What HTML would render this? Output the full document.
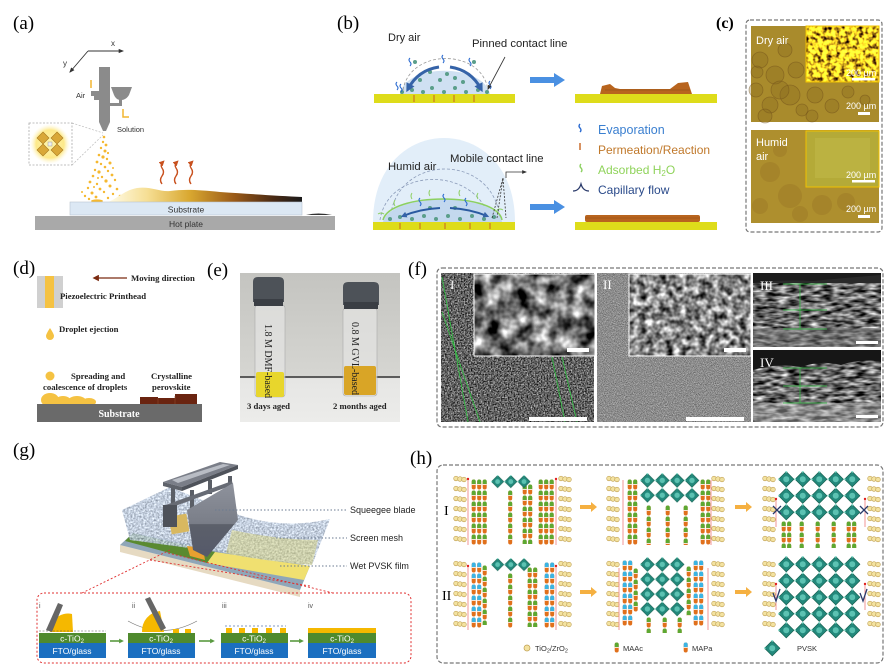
<!DOCTYPE html>
<html><head><meta charset="utf-8"><style>
html,body{margin:0;padding:0;background:#fff;}
svg{display:block;}
.s{font-family:"Liberation Serif",serif;}
.a{font-family:"Liberation Sans",sans-serif;}
</style></head><body>
<svg width="885" height="669" viewBox="0 0 885 669" xmlns="http://www.w3.org/2000/svg">
<defs>
<marker id="ahk" viewBox="0 0 10 10" refX="8" refY="5" markerWidth="6" markerHeight="6" orient="auto"><path d="M0,1 L10,5 L0,9z" fill="#333"/></marker>
<marker id="ahB" viewBox="0 0 10 10" refX="6" refY="5" markerWidth="3" markerHeight="3" orient="auto"><path d="M0,0 L10,5 L0,10z" fill="#3563a8"/></marker>
<marker id="ahR" viewBox="0 0 10 10" refX="6" refY="5" markerWidth="4" markerHeight="4" orient="auto"><path d="M0,0 L10,5 L0,10z" fill="#c8501e"/></marker>
<marker id="ahD" viewBox="0 0 10 10" refX="6" refY="5" markerWidth="5" markerHeight="5" orient="auto"><path d="M0,0 L10,5 L0,10z" fill="#7a2a10"/></marker>
<marker id="ahG" viewBox="0 0 10 10" refX="6" refY="5" markerWidth="3" markerHeight="3" orient="auto"><path d="M0,0 L10,5 L0,10z" fill="#5a9a40"/></marker>
<linearGradient id="film" gradientUnits="userSpaceOnUse" x1="108" y1="0" x2="302" y2="0">
<stop offset="0" stop-color="#fffbe8"/><stop offset="0.2" stop-color="#f6df95"/><stop offset="0.42" stop-color="#d9a830"/><stop offset="0.65" stop-color="#9a5a18"/><stop offset="0.85" stop-color="#4a2a14"/><stop offset="1" stop-color="#1a1a1a"/>
</linearGradient>
<radialGradient id="glow"><stop offset="0" stop-color="#fff6b0"/><stop offset="0.7" stop-color="#fde98a"/><stop offset="1" stop-color="#fff8d8" stop-opacity="0"/></radialGradient>
<linearGradient id="photo" x1="0" y1="0" x2="0" y2="1"><stop offset="0" stop-color="#c4c4c0"/><stop offset="0.7" stop-color="#d6d6d2"/><stop offset="0.71" stop-color="#e6e6e4"/><stop offset="1" stop-color="#ececea"/></linearGradient>
<linearGradient id="blade" x1="0" y1="0" x2="0" y2="1"><stop offset="0" stop-color="#8e929c"/><stop offset="0.55" stop-color="#7a7e88"/><stop offset="0.56" stop-color="#5c606a"/><stop offset="1" stop-color="#55596a"/></linearGradient>
<filter id="nz1" x="0" y="0" width="1" height="1" color-interpolation-filters="sRGB"><feTurbulence type="fractalNoise" baseFrequency="0.7" numOctaves="2" seed="4"/><feColorMatrix type="matrix" values="1.3 0 0 0 -0.27 1.3 0 0 0 -0.27 1.3 0 0 0 -0.27 0 0 0 0 1"/></filter>
<filter id="nz2" x="0" y="0" width="1" height="1" color-interpolation-filters="sRGB"><feTurbulence type="fractalNoise" baseFrequency="1.1" numOctaves="2" seed="7"/><feColorMatrix type="matrix" values="0.7 0 0 0 0.2 0.7 0 0 0 0.2 0.7 0 0 0 0.2 0 0 0 0 1"/></filter>
<filter id="nzI" x="0" y="0" width="1" height="1" color-interpolation-filters="sRGB"><feTurbulence type="fractalNoise" baseFrequency="0.06" numOctaves="3" seed="11"/><feColorMatrix type="matrix" values="2.0 0 0 0 -0.55 2.0 0 0 0 -0.55 2.0 0 0 0 -0.55 0 0 0 0 1"/></filter>
<filter id="nzII" x="0" y="0" width="1" height="1" color-interpolation-filters="sRGB"><feTurbulence type="fractalNoise" baseFrequency="0.15" numOctaves="2" seed="5"/><feColorMatrix type="matrix" values="1.6 0 0 0 -0.27 1.6 0 0 0 -0.27 1.6 0 0 0 -0.27 0 0 0 0 1"/></filter>
<filter id="nzX" x="0" y="0" width="1" height="1" color-interpolation-filters="sRGB"><feTurbulence type="fractalNoise" baseFrequency="0.09 0.3" numOctaves="2" seed="9"/><feColorMatrix type="matrix" values="1.6 0 0 0 -0.38 1.6 0 0 0 -0.38 1.6 0 0 0 -0.38 0 0 0 0 1"/></filter>
<filter id="nzC" x="0" y="0" width="1" height="1" color-interpolation-filters="sRGB"><feTurbulence type="fractalNoise" baseFrequency="0.22" numOctaves="2" seed="3"/><feColorMatrix type="matrix" values="3 0 0 0 -0.5 2.8 0 0 0 -0.58 0.5 0 0 0 -0.1 0 0 0 0 1"/></filter>
<filter id="nzM" x="0" y="0" width="1" height="1" color-interpolation-filters="sRGB"><feTurbulence type="fractalNoise" baseFrequency="0.55" numOctaves="2" seed="2"/><feColorMatrix type="matrix" values="0.8 0 0 0 0.33 0.8 0 0 0 0.38 0.8 0 0 0 0.45 0 0 0 0 1"/><feComposite operator="in" in2="SourceGraphic"/></filter>
<pattern id="tio" patternUnits="userSpaceOnUse" width="14" height="10">
<g fill="#f3e2a0" stroke="#bf9f50" stroke-width="0.6"><circle cx="3" cy="4.5" r="2.3"/><circle cx="7" cy="5" r="2.3"/><circle cx="11" cy="5.5" r="2.3"/></g></pattern>
<pattern id="cg" patternUnits="userSpaceOnUse" width="5.5" height="11">
<rect x="0.7" y="0.5" width="4" height="10" rx="2" fill="#e0701c"/><path d="M0.7,5 v-2.5 a2,2 0 0 1 4,0 v2.5z" fill="#5ca832"/><rect x="0.7" y="5" width="4" height="0.8" fill="#fff"/></pattern>
<pattern id="cb" patternUnits="userSpaceOnUse" width="5.5" height="11">
<rect x="0.7" y="0.5" width="4" height="10" rx="2" fill="#e0701c"/><path d="M0.7,5 v-2.5 a2,2 0 0 1 4,0 v2.5z" fill="#3ab4e4"/><rect x="0.7" y="5" width="4" height="0.8" fill="#fff"/></pattern>
<pattern id="dia" patternUnits="userSpaceOnUse" width="16.5" height="16.5">
<path d="M8.25,0.6 L15.9,8.25 L8.25,15.9 L0.6,8.25z" fill="#23897c" stroke="#15604f" stroke-width="0.7"/><circle cx="8.25" cy="8.25" r="3" fill="#5cc2b2"/><circle cx="8.25" cy="0.6" r="1" fill="#8fe0d0"/><circle cx="0.6" cy="8.25" r="1" fill="#8fe0d0"/></pattern>
</defs>

<!-- ============ (a) ============ -->
<text class="s" x="13" y="29" font-size="19">(a)</text>
<line x1="88" y1="51" x2="123" y2="51" stroke="#333" stroke-width="0.9" marker-end="url(#ahk)"/>
<line x1="88" y1="51" x2="70" y2="72" stroke="#333" stroke-width="0.9" marker-end="url(#ahk)"/>
<text class="a" x="111" y="46" font-size="8" fill="#333">x</text>
<text class="a" x="63" y="66" font-size="8" fill="#333">y</text>
<rect x="99" y="67" width="11" height="55" fill="#8b8b8b"/>
<polygon points="99,122 110,122 106,131 103,131" fill="#8b8b8b"/>
<path d="M91,91 h8 v9 h-5 v-4 h-3z" fill="#8b8b8b"/>
<path d="M110,106 h12 v-8 h-3 v5 h-9z" fill="#8b8b8b"/>
<path d="M111,87 h21 l-3,8 q-3,5 -8,5 q-5,0 -7,-5z" fill="#8b8b8b"/>
<path d="M91,80 v8" stroke="#f2b630" stroke-width="1.5"/>
<path d="M123,109 v8 h6" stroke="#f2b630" stroke-width="1.5" fill="none"/>
<text class="a" x="76" y="98" font-size="7.5" fill="#333">Air</text>
<text class="a" x="117" y="132" font-size="7.5" fill="#333">Solution</text>
<circle cx="50" cy="144" r="20" fill="url(#glow)"/>
<rect x="29" y="123" width="43" height="42" fill="none" stroke="#aaa" stroke-width="0.8" stroke-dasharray="2,1.5"/>
<line x1="72" y1="123" x2="103" y2="133" stroke="#bbb" stroke-width="0.7" stroke-dasharray="2,1.5"/>
<line x1="72" y1="165" x2="103" y2="135" stroke="#bbb" stroke-width="0.7" stroke-dasharray="2,1.5"/>
<g fill="#d9a838" stroke="#a87a20" stroke-width="0.6">
<path d="M43,132 l6,6 l-6,6 l-6,-6z"/><path d="M57,132 l6,6 l-6,6 l-6,-6z"/><path d="M43,144 l6,6 l-6,6 l-6,-6z"/><path d="M57,144 l6,6 l-6,6 l-6,-6z"/></g>
<rect x="48" y="142" width="4" height="4" fill="#eee" stroke="#888" stroke-width="0.4"/>
<g fill="#f5b830">
<circle cx="104" cy="137" r="1.3"/><circle cx="103" cy="142" r="1.2"/><circle cx="106" cy="145" r="1.4"/><circle cx="101" cy="148" r="1.2"/><circle cx="105" cy="151" r="1.5"/><circle cx="108" cy="153" r="1.1"/><circle cx="99" cy="155" r="1.3"/><circle cx="103" cy="157" r="1.6"/><circle cx="107" cy="159" r="1.2"/><circle cx="97" cy="162" r="1.4"/><circle cx="101" cy="164" r="1.2"/><circle cx="110" cy="163" r="1.5"/><circle cx="105" cy="167" r="1.3"/><circle cx="95" cy="170" r="1.2"/><circle cx="99" cy="172" r="1.6"/><circle cx="108" cy="171" r="1.2"/><circle cx="112" cy="175" r="1.4"/><circle cx="93" cy="176" r="1.3"/><circle cx="102" cy="177" r="1.2"/><circle cx="106" cy="181" r="1.6"/><circle cx="115" cy="180" r="1.2"/><circle cx="90" cy="182" r="1.4"/><circle cx="97" cy="184" r="1.2"/><circle cx="110" cy="186" r="1.5"/><circle cx="88" cy="188" r="1.2"/><circle cx="100" cy="189" r="1.4"/><circle cx="104" cy="192" r="1.2"/><circle cx="117" cy="189" r="1.3"/><circle cx="92" cy="193" r="1.5"/><circle cx="113" cy="194" r="1.2"/><circle cx="85" cy="196" r="1.2"/><circle cx="96" cy="197" r="1.4"/><circle cx="108" cy="198" r="1.2"/><circle cx="120" cy="196" r="1.3"/><circle cx="89" cy="199" r="1.2"/><circle cx="124" cy="199" r="1.2"/><circle cx="82" cy="192" r="1"/><circle cx="94" cy="187" r="1"/><circle cx="113" cy="168" r="1"/><circle cx="98" cy="178" r="1"/>
<ellipse cx="97" cy="201" rx="6" ry="1.6"/></g>
<path d="M108,202 C118,198 125,190 137,188 C150,186 160,192 170,191 C185,189 200,190 220,192 C250,194 280,196 302,197 L302,202 Z" fill="url(#film)"/>
<rect x="70" y="202" width="232" height="13" fill="#dce8f4" stroke="#b8c4d0" stroke-width="0.6"/>
<text class="a" x="186" y="212.5" font-size="8.5" fill="#333" text-anchor="middle">Substrate</text>
<rect x="35" y="216" width="300" height="14" fill="#a9a9a9"/>
<text class="a" x="186" y="227" font-size="8.5" fill="#333" text-anchor="middle">Hot plate</text>
<path d="M306,215 q12,-3 26,0z" fill="#333"/>
<g stroke="#c8501e" stroke-width="1.4" fill="none" marker-end="url(#ahR)">
<path d="M162,184 q-3,-4 0,-8 q3,-4 0,-8 q-2,-3 1,-6"/><path d="M176,184 q-3,-4 0,-8 q3,-4 0,-8 q-2,-3 1,-6"/><path d="M191,184 q-3,-4 0,-8 q3,-4 0,-8 q-2,-3 1,-6"/></g>

<!-- ============ (b) ============ -->
<text class="s" x="337" y="29" font-size="19">(b)</text>
<text class="a" x="388" y="41" font-size="11" fill="#222">Dry air</text>
<text class="a" x="472" y="47" font-size="11.3" fill="#222">Pinned contact line</text>
<path d="M400,94 C405,63 483,63 490,94 Z" fill="#cfe0f2"/>
<path d="M403,90 C410,48 482,48 488,90" fill="none" stroke="#999" stroke-width="0.8" stroke-dasharray="3,2"/>
<g fill="#5a9e8a"><circle cx="402" cy="92" r="2"/><circle cx="412" cy="90" r="2"/><circle cx="423" cy="92" r="2"/><circle cx="432" cy="88" r="2"/><circle cx="444" cy="92" r="2"/><circle cx="455" cy="88" r="2"/><circle cx="466" cy="92" r="2"/><circle cx="478" cy="90" r="2"/><circle cx="487" cy="92" r="2"/><circle cx="420" cy="80" r="2"/><circle cx="440" cy="80" r="2"/><circle cx="455" cy="78" r="2"/><circle cx="430" cy="72" r="2"/><circle cx="447" cy="74" r="2"/><circle cx="463" cy="82" r="2"/><circle cx="415" cy="62" r="2"/><circle cx="474" cy="62" r="2"/></g>
<g stroke="#3563a8" stroke-width="3" fill="none" marker-end="url(#ahB)"><path d="M439,67 Q418,70 408,89"/><path d="M450,67 Q471,70 481,89"/></g>
<g stroke="#2a6ad0" stroke-width="1.1" fill="none"><path d="M410,58 q-2,2 0,4 q2,2 0,4"/><path d="M443,55 q-2,2 0,4 q2,2 0,4"/><path d="M470,58 q-2,2 0,4 q2,2 0,4"/><path d="M397,82 q-2,2 0,4 q2,2 0,4"/><path d="M401,84 q-2,2 0,4 q2,2 0,4"/><path d="M490,81 q-2,2 0,4 q2,2 0,4"/></g>
<rect x="374" y="94" width="141" height="9" fill="#dedc1a"/>
<g stroke="#c8641e" stroke-width="1"><line x1="414" y1="95" x2="414" y2="102"/><line x1="434" y1="95" x2="434" y2="102"/><line x1="454" y1="95" x2="454" y2="102"/><line x1="474" y1="95" x2="474" y2="102"/></g>
<line x1="505" y1="57" x2="488" y2="89" stroke="#333" stroke-width="0.8" marker-end="url(#ahk)"/>
<path d="M530,77 h24 v-4 l11,7 l-11,7 v-4 h-24z" fill="#4a90e2"/>
<rect x="575" y="94" width="142" height="9" fill="#dedc1a"/>
<path d="M600,94 L602,86 L610,84 L615,88 L620,89 L670,89 L678,83 L688,82 L692,94z" fill="#b8641e"/>
<g stroke="#8a4a14" stroke-width="0.5" fill="none"><path d="M605,90 h85"/></g>

<path d="M373,222 C373,110 515,110 515,222 Z" fill="#e2eef9"/>
<path d="M390,220 C395,152 495,152 500,220" fill="none" stroke="#8a9ab8" stroke-width="0.8" stroke-dasharray="3,2"/>
<path d="M380,220 C388,168 470,166 488,214" fill="none" stroke="#8a9ab8" stroke-width="0.8" stroke-dasharray="3,2"/>
<path d="M383,222 C390,192 497,192 502,222 Z" fill="#c3d8ee"/>
<path d="M383,220 C390,192 497,192 502,220" fill="none" stroke="#8cd060" stroke-width="1.5"/>
<g stroke="#8cd060" stroke-width="1" fill="none"><path d="M395,206 q-2,-3 0,-6"/><path d="M412,199 q-2,-3 0,-6"/><path d="M430,196 q-2,-3 0,-6"/><path d="M460,196 q-2,-3 0,-6"/><path d="M478,199 q-2,-3 0,-6"/><path d="M384,214 q-3,-2 -6,0"/><path d="M497,210 q3,-2 6,0"/></g>
<g stroke="#2a6ad0" stroke-width="1.1" fill="none"><path d="M420,198 q-2,2 0,4 q2,2 0,4"/><path d="M444,194 q-2,2 0,4 q2,2 0,4"/><path d="M466,198 q-2,2 0,4 q2,2 0,4"/></g>
<g fill="#5a9e8a"><circle cx="390" cy="219" r="2"/><circle cx="400" cy="217" r="2"/><circle cx="412" cy="219" r="2"/><circle cx="424" cy="216" r="2"/><circle cx="436" cy="219" r="2"/><circle cx="448" cy="216" r="2"/><circle cx="460" cy="219" r="2"/><circle cx="472" cy="216" r="2"/><circle cx="484" cy="219" r="2"/><circle cx="494" cy="217" r="2"/><circle cx="430" cy="208" r="2"/><circle cx="455" cy="208" r="2"/></g>
<g stroke="#2a5aa0" stroke-width="2" fill="none" marker-end="url(#ahB)"><path d="M440,208 Q420,209 403,216"/><path d="M450,208 Q470,209 487,216"/></g>
<rect x="373" y="222" width="142" height="8" fill="#dedc1a"/>
<g stroke="#c8641e" stroke-width="1"><line x1="400" y1="223" x2="400" y2="229"/><line x1="420" y1="223" x2="420" y2="229"/><line x1="445" y1="223" x2="445" y2="229"/><line x1="470" y1="223" x2="470" y2="229"/><line x1="490" y1="223" x2="490" y2="229"/></g>
<g stroke="#333" stroke-width="0.8" fill="none" stroke-dasharray="2,1.5"><path d="M492,218 L503,178 L506,218"/><path d="M497,218 L503,178"/></g>
<path d="M506,178 V172 H526" stroke="#333" stroke-width="0.8" fill="none" marker-end="url(#ahk)"/>
<text class="a" x="388" y="170" font-size="11.3" fill="#222">Humid air</text>
<text class="a" x="450" y="162" font-size="11.3" fill="#222">Mobile contact line</text>
<path d="M530,204 h24 v-4 l11,7 l-11,7 v-4 h-24z" fill="#4a90e2"/>
<rect x="575" y="222" width="142" height="8" fill="#dedc1a"/>
<rect x="585" y="215" width="115" height="7" rx="2" fill="#b8641e"/>
<g stroke="#8a4a14" stroke-width="0.4"><path d="M585,218 h115"/></g>

<path d="M580,124 q-2,2 0,4 q2,2 0,4" stroke="#2a6ad0" stroke-width="1.4" fill="none"/>
<text class="a" x="598" y="134" font-size="12.5" fill="#3a7fd0">Evaporation</text>
<path d="M580,143 v7" stroke="#c8641e" stroke-width="1.4"/>
<text class="a" x="598" y="154" font-size="12" fill="#c0782a">Permeation/Reaction</text>
<path d="M581,164 q-2,2 0,4 q2,2 0,4" stroke="#8cd060" stroke-width="1.4" fill="none"/>
<text class="a" x="598" y="174" font-size="12" fill="#8fd35a">Adsorbed H<tspan font-size="8" dy="2">2</tspan><tspan dy="-2">O</tspan></text>
<path d="M573,191 q6,0 8,-7 q2,7 8,7" stroke="#2a3a6a" stroke-width="1.3" fill="none"/>
<text class="a" x="598" y="194" font-size="12" fill="#2a4a8a">Capillary flow</text>

<!-- ============ (c) ============ -->
<text class="s" x="716" y="28" font-size="16" font-weight="bold">(c)</text>
<rect x="746" y="20" width="136" height="212" rx="4" fill="none" stroke="#777" stroke-width="1.2" stroke-dasharray="4,2"/>
<rect x="751" y="26" width="128" height="96" fill="#a98b2c"/>
<g fill="#86661f" fill-opacity="0.3" stroke="#6a4a18" stroke-opacity="0.45" stroke-width="0.8">
<circle cx="760" cy="60" r="8"/><circle cx="775" cy="75" r="9"/><circle cx="790" cy="95" r="10"/><circle cx="770" cy="105" r="8"/><circle cx="756" cy="90" r="7"/><circle cx="802" cy="110" r="6"/><circle cx="815" cy="95" r="8"/><circle cx="832" cy="106" r="7"/><circle cx="848" cy="92" r="6"/><circle cx="785" cy="50" r="7"/><circle cx="796" cy="70" r="8"/><circle cx="765" cy="116" r="7"/><circle cx="812" cy="116" r="6"/><circle cx="780" cy="90" r="9"/><circle cx="757" cy="72" r="6"/><circle cx="865" cy="100" r="5"/></g>
<rect x="806" y="26" width="73" height="56" filter="url(#nzC)"/>
<rect x="806" y="26" width="73" height="56" fill="none" stroke="#f0c000" stroke-width="1"/>
<text class="a" x="756" y="44" font-size="11" fill="#fff">Dry air</text>
<text class="a" x="846" y="76" font-size="9" fill="#fff">200 µm</text>
<rect x="852" y="78" width="23" height="2.5" fill="#fff"/>
<text class="a" x="846" y="109" font-size="9" fill="#fff">200 µm</text>
<rect x="858" y="112" width="12" height="3" fill="#fff"/>
<rect x="751" y="130" width="128" height="93" fill="#ae8f2e"/>
<g fill="#8a6420" fill-opacity="0.25"><circle cx="770" cy="172" r="10"/><circle cx="790" cy="196" r="12"/><circle cx="822" cy="205" r="10"/><circle cx="760" cy="206" r="8"/><circle cx="846" cy="202" r="9"/><circle cx="800" cy="214" r="8"/><circle cx="780" cy="150" r="7"/></g>
<rect x="806" y="131" width="73" height="56" fill="#b4aa38"/>
<rect x="815" y="138" width="55" height="40" fill="#c0b848" opacity="0.6"/>
<rect x="806" y="131" width="73" height="56" fill="none" stroke="#f0c000" stroke-width="1"/>
<text class="a" x="756" y="146" font-size="11" fill="#fff">Humid</text>
<text class="a" x="756" y="160" font-size="11" fill="#fff">air</text>
<text class="a" x="846" y="178" font-size="9" fill="#fff">200 µm</text>
<rect x="852" y="180" width="23" height="2.5" fill="#fff"/>
<text class="a" x="846" y="212" font-size="9" fill="#fff">200 µm</text>
<rect x="858" y="215" width="12" height="3" fill="#fff"/>

<!-- ============ (d) ============ -->
<text class="s" x="13" y="274" font-size="19">(d)</text>
<rect x="37" y="276" width="26" height="32" fill="#d0d0d0"/>
<rect x="45" y="276" width="9" height="32" fill="#f5c242"/>
<line x1="127" y1="278" x2="95" y2="278" stroke="#7a2a10" stroke-width="1.3" marker-end="url(#ahD)"/>
<text class="s" x="131" y="281" font-size="8.7" font-weight="bold" fill="#222">Moving direction</text>
<text class="s" x="60" y="299" font-size="8.7" font-weight="bold" fill="#222">Piezoelectric Printhead</text>
<path d="M50,328 q-4,6 -4,8 a4,4 0 0 0 8,0 q0,-2 -4,-8z" fill="#f5c242"/>
<text class="s" x="59" y="332" font-size="8.7" font-weight="bold" fill="#222">Droplet ejection</text>
<circle cx="50" cy="376" r="4.5" fill="#f5c242"/>
<text class="s" x="71" y="379" font-size="8.7" font-weight="bold" fill="#222">Spreading and</text>
<text class="s" x="43" y="390" font-size="8.7" font-weight="bold" fill="#222">coalescence  of droplets</text>
<text class="s" x="151" y="379" font-size="8.7" font-weight="bold" fill="#222">Crystalline</text>
<text class="s" x="152" y="390" font-size="8.7" font-weight="bold" fill="#222">perovskite</text>
<g fill="#f5c242"><ellipse cx="50" cy="400" rx="9" ry="7"/><ellipse cx="63" cy="401" rx="8" ry="5"/><ellipse cx="77" cy="401" rx="9" ry="5"/><ellipse cx="89" cy="402" rx="7" ry="4"/></g>
<path d="M140,404 V397 H158 V398 H175 V394 H197 V404z" fill="#6a2410"/>
<g stroke="#8a4a2a" stroke-width="0.6"><line x1="158" y1="398" x2="158" y2="404"/><line x1="175" y1="396" x2="175" y2="404"/></g>
<rect x="37" y="404" width="165" height="18" fill="#6a6a6a"/>
<text class="s" x="119" y="417" font-size="10" font-weight="bold" fill="#fff" text-anchor="middle">Substrate</text>

<!-- ============ (e) ============ -->
<text class="s" x="207" y="276" font-size="19">(e)</text>
<rect x="240" y="273" width="160" height="149" fill="url(#photo)"/>
<line x1="240" y1="377" x2="400" y2="377" stroke="#333" stroke-width="1.5"/>
<rect x="255" y="305" width="30" height="92" rx="3" fill="#e4e4e2" fill-opacity="0.7" stroke="#aaa" stroke-width="0.6"/>
<rect x="256" y="372" width="28" height="25" rx="2" fill="#e8d62c"/>
<path d="M253,282 q0,-5 5,-5 h21 q5,0 5,5 v20 h-31z" fill="#4d5258"/>
<rect x="254" y="299" width="29" height="7" fill="#3a3e44"/>
<rect x="343" y="308" width="34" height="88" rx="3" fill="#e4e4e2" fill-opacity="0.7" stroke="#aaa" stroke-width="0.6"/>
<rect x="344" y="366" width="32" height="29" rx="2" fill="#d9a526"/>
<path d="M343,287 q0,-5 5,-5 h26 q5,0 5,5 v18 h-36z" fill="#4d5258"/>
<rect x="344" y="302" width="34" height="7" fill="#3a3e44"/>
<text class="s" transform="translate(265,324) rotate(90)" font-size="10" fill="#222">1.8 M DMF-based</text>
<text class="s" transform="translate(352,322) rotate(90)" font-size="10" fill="#222">0.8 M GVL-based</text>
<text class="s" x="247" y="409" font-size="8.7" font-weight="bold" fill="#222">3 days aged</text>
<text class="s" x="333" y="409" font-size="8.7" font-weight="bold" fill="#222">2 months aged</text>

<!-- ============ (f) ============ -->
<text class="s" x="408" y="275" font-size="19">(f)</text>
<rect x="437" y="268" width="446" height="159" rx="5" fill="none" stroke="#777" stroke-width="1.2" stroke-dasharray="4,2"/>
<rect x="441" y="273" width="153" height="149" filter="url(#nz1)"/>
<g stroke="#2ec040" stroke-width="0.8"><line x1="442" y1="277" x2="468" y2="422"/><line x1="442" y1="312" x2="480" y2="422"/><line x1="552" y1="357" x2="565" y2="422"/><line x1="562" y1="357" x2="577" y2="422"/></g>
<rect x="474" y="274" width="121" height="82" filter="url(#nzI)"/>
<rect x="474" y="274" width="121" height="82" fill="none" stroke="#fff" stroke-width="1"/>
<rect x="567" y="348" width="22" height="4" fill="#fff"/>
<rect x="529" y="417" width="58" height="4" fill="#fff"/>
<text class="s" x="450" y="289" font-size="13" fill="#fff">I</text>
<rect x="597" y="273" width="154" height="149" filter="url(#nz2)"/>
<rect x="629" y="274" width="122" height="82" filter="url(#nzII)"/>
<rect x="629" y="274" width="122" height="82" fill="none" stroke="#fff" stroke-width="1"/>
<rect x="724" y="348" width="22" height="4" fill="#fff"/>
<rect x="686" y="417" width="58" height="4" fill="#fff"/>
<text class="s" x="603" y="289" font-size="13" fill="#fff">II</text>
<rect x="753" y="273" width="128" height="74" filter="url(#nzX)"/>
<rect x="753" y="273" width="128" height="10" fill="#1c1c1c"/>
<path d="M753,283 q30,-4 60,-2 q30,-3 68,-6 v8 h-128z" fill="#2a2a2a"/>
<rect x="753" y="328" width="128" height="19" fill="#777" opacity="0.5"/>
<g stroke="#2ec040" stroke-width="0.7"><line x1="783" y1="284" x2="827" y2="284"/><line x1="783" y1="310" x2="827" y2="310"/><line x1="783" y1="329" x2="827" y2="329"/><line x1="800" y1="284" x2="800" y2="329"/></g>
<rect x="856" y="341" width="22" height="3" fill="#fff"/>
<text class="s" x="760" y="290" font-size="13" fill="#fff">III</text>
<rect x="753" y="350" width="128" height="72" filter="url(#nzX)"/>
<path d="M753,350 h128 v12 q-20,-4 -40,3 q-20,-5 -40,2 q-25,-4 -48,3z" fill="#161616"/>
<rect x="753" y="403" width="128" height="19" fill="#bbb" opacity="0.45"/>
<g stroke="#2ec040" stroke-width="0.7"><line x1="783" y1="368" x2="827" y2="368"/><line x1="783" y1="386" x2="827" y2="386"/><line x1="783" y1="403" x2="827" y2="403"/><line x1="800" y1="368" x2="800" y2="403"/></g>
<rect x="856" y="415" width="22" height="3" fill="#fff"/>
<text class="s" x="760" y="367" font-size="13" fill="#fff">IV</text>

<!-- ============ (g) ============ -->
<text class="s" x="13" y="456" font-size="19">(g)</text>
<polygon points="120,545 300,590 300,597 120,552" fill="#e6dac2"/>
<polygon points="120,545 133,533 310,566 300,590" fill="#8fa6b8"/>
<polygon points="133,533 215,552 207,563 125,541" fill="#5a8a30"/>
<polygon points="215,552 310,566 304,580 207,563" fill="#f0e070"/>
<path d="M122,510 L170,487 L236,514 Q282,530 330,519 L312,565 Q262,561 226,553 L130,540 Z" fill="#b6c1ce" filter="url(#nzM)" opacity="0.85"/>
<path d="M232,530 Q280,540 318,540 L312,565 Q262,561 226,553z" fill="#d8d070" opacity="0.45"/>
<rect x="170" y="515" width="18" height="18" fill="#d8b860" transform="rotate(-10 179 524)"/>
<polygon points="187,546 203,548 205,560 190,556" fill="#e8a030"/>
<g fill="#5a5e66"><rect x="171" y="486" width="4" height="30"/><rect x="190" y="490" width="4" height="25"/><rect x="208" y="480" width="4" height="14"/><rect x="228" y="476" width="4" height="10"/></g>
<polygon points="163,506 232,481 233,485 164,510" fill="#676b74"/>
<rect x="163" y="505" width="14" height="22" fill="#4e525a"/>
<polygon points="187,510 233,483 238,520 207,557 193,550" fill="url(#blade)"/>
<polygon points="163,482 220,462 238,465 182,487" fill="#7a7e88"/>
<polygon points="172,480 223,464 230,465 178,483" fill="#b8bcc4"/>
<polygon points="182,487 238,465 238,469 182,491" fill="#4e525a"/>
<polygon points="163,482 182,487 182,491 163,486" fill="#5e626a"/>
<g stroke="#e03030" stroke-width="0.9" stroke-dasharray="2,2" fill="none"><line x1="82" y1="593" x2="170" y2="550"/><line x1="168" y1="553" x2="333" y2="593"/><line x1="150" y1="560" x2="310" y2="586"/></g>
<g stroke="#6a7a90" stroke-width="0.9" stroke-dasharray="1.5,2"><line x1="215" y1="510" x2="347" y2="510"/><line x1="276" y1="538" x2="347" y2="538"/><line x1="280" y1="566" x2="347" y2="566"/></g>
<text class="a" x="350" y="513" font-size="9" fill="#222">Squeegee blade</text>
<text class="a" x="350" y="541" font-size="9" fill="#222">Screen mesh</text>
<text class="a" x="350" y="569" font-size="9" fill="#222">Wet PVSK film</text>
<rect x="37" y="593" width="374" height="70" rx="7" fill="none" stroke="#e03030" stroke-width="1" stroke-dasharray="2,2"/>
<g class="a" font-size="7" fill="#555"><text x="39" y="608">i</text><text x="132" y="608">ii</text><text x="222" y="608">iii</text><text x="308" y="608">iv</text></g>
<g>
<rect x="39" y="633" width="67" height="10" fill="#4f8a2e"/><rect x="39" y="643" width="67" height="15" fill="#1b6fc0"/>
<rect x="128" y="633" width="67" height="10" fill="#4f8a2e"/><rect x="128" y="643" width="67" height="15" fill="#1b6fc0"/>
<rect x="221" y="633" width="67" height="10" fill="#4f8a2e"/><rect x="221" y="643" width="67" height="15" fill="#1b6fc0"/>
<rect x="308" y="633" width="68" height="10" fill="#4f8a2e"/><rect x="308" y="643" width="68" height="15" fill="#1b6fc0"/>
</g>
<g class="a" font-size="8.5" fill="#fff" text-anchor="middle">
<text x="72" y="641.5">c-TiO<tspan font-size="6" dy="1.5">2</tspan></text><text x="72" y="654">FTO/glass</text>
<text x="161" y="641.5">c-TiO<tspan font-size="6" dy="1.5">2</tspan></text><text x="161" y="654">FTO/glass</text>
<text x="254" y="641.5">c-TiO<tspan font-size="6" dy="1.5">2</tspan></text><text x="254" y="654">FTO/glass</text>
<text x="342" y="641.5">c-TiO<tspan font-size="6" dy="1.5">2</tspan></text><text x="342" y="654">FTO/glass</text>
</g>
<g stroke="#5a9a40" stroke-width="1.6" marker-end="url(#ahG)"><line x1="110" y1="641" x2="122" y2="641"/><line x1="199" y1="641" x2="213" y2="641"/><line x1="290" y1="641" x2="302" y2="641"/></g>
<path d="M50,632 A18,18 0 0 1 72,614 L73,632z" fill="#f5b800"/>
<polygon points="46,630 58,603 63,605 52,632" fill="#666"/>
<line x1="39" y1="631" x2="106" y2="631" stroke="#555" stroke-width="0.6" stroke-dasharray="2,1.5"/>
<path d="M128,621 Q162,640 197,621" fill="none" stroke="#777" stroke-width="0.7"/>
<path d="M142,632 A20,20 0 0 1 160,611 L164,632z" fill="#f5b800"/>
<polygon points="145,599 150,597 166,628 161,631" fill="#666"/>
<g fill="#f5b800"><rect x="173" y="629" width="6" height="4"/><rect x="185" y="629" width="6" height="4"/></g>
<g fill="#f5b800"><rect x="226" y="628" width="6" height="5"/><rect x="239" y="628" width="6" height="5"/><rect x="252" y="628" width="6" height="5"/><rect x="266" y="628" width="6" height="5"/><rect x="280" y="628" width="6" height="5"/></g>
<line x1="225" y1="626" x2="286" y2="626" stroke="#5a7ab0" stroke-width="0.8" stroke-dasharray="2,2"/>
<rect x="308" y="628" width="68" height="5" fill="#f5b800"/>

<!-- ============ (h) ============ -->
<text class="s" x="410" y="464" font-size="19">(h)</text>
<rect x="437" y="465" width="446" height="198" rx="6" fill="none" stroke="#777" stroke-width="1.2" stroke-dasharray="4,2"/>
<text class="s" x="444" y="515" font-size="14">I</text>
<text class="s" x="442" y="600" font-size="14">II</text>
<g fill="#f5b041"><path d="M580,505 h11 v-3 l6,5 l-6,5 v-3 h-11z"/><path d="M735,505 h11 v-3 l6,5 l-6,5 v-3 h-11z"/><path d="M580,590 h11 v-3 l6,5 l-6,5 v-3 h-11z"/><path d="M735,590 h11 v-3 l6,5 l-6,5 v-3 h-11z"/></g>
<!-- Row I left -->
<g transform="translate(453,474)"><rect width="14" height="70" fill="url(#tio)"/></g>
<g transform="translate(558,474)"><rect width="14" height="70" fill="url(#tio)"/></g>
<g stroke="#f08a8a" stroke-width="0.9"><line x1="468" y1="480" x2="468" y2="545"/><line x1="556" y1="480" x2="556" y2="545"/></g>
<g fill="#e02020"><circle cx="468" cy="479" r="1.2"/><circle cx="556" cy="479" r="1.2"/></g>
<g transform="translate(471,479)"><rect width="17" height="66" fill="url(#cg)"/></g>
<g transform="translate(507.5,490)"><rect width="5.5" height="55" fill="url(#cg)"/></g>
<g transform="translate(522,484)"><rect width="11" height="60" fill="url(#cg)"/></g>
<g transform="translate(538,479)"><rect width="17" height="66" fill="url(#cg)"/></g>
<g transform="translate(491,475) scale(0.8)"><rect width="49.5" height="16.5" fill="url(#dia)"/></g>
<!-- Row I middle -->
<g transform="translate(606,474)"><rect width="14" height="70" fill="url(#tio)"/></g>
<g transform="translate(711,474)"><rect width="14" height="70" fill="url(#tio)"/></g>
<g transform="translate(640,473) scale(0.9)"><rect width="66" height="33" fill="url(#dia)"/></g>
<g transform="translate(627,479)"><rect width="11" height="66" fill="url(#cg)"/></g>
<g transform="translate(700,479)"><rect width="11" height="66" fill="url(#cg)"/></g>
<g transform="translate(646,505)"><rect width="5.5" height="40" fill="url(#cg)"/></g>
<g transform="translate(665,505)"><rect width="5.5" height="40" fill="url(#cg)"/></g>
<g transform="translate(683,505)"><rect width="5.5" height="40" fill="url(#cg)"/></g>
<g stroke="#f08a8a" stroke-width="0.9" fill="none"><path d="M623,480 V545"/><path d="M711,480 V545"/></g>
<!-- Row I right -->
<g transform="translate(762,474)"><rect width="14" height="70" fill="url(#tio)"/></g>
<g transform="translate(867,474)"><rect width="14" height="70" fill="url(#tio)"/></g>
<g transform="translate(778,471)"><rect width="82.5" height="49.5" fill="url(#dia)"/></g>
<g transform="translate(781,521)"><rect width="11" height="27" fill="url(#cg)"/></g>
<g transform="translate(799,521)"><rect width="5.5" height="27" fill="url(#cg)"/></g>
<g transform="translate(815,521)"><rect width="5.5" height="27" fill="url(#cg)"/></g>
<g transform="translate(831,521)"><rect width="5.5" height="27" fill="url(#cg)"/></g>
<g transform="translate(846,521)"><rect width="11" height="27" fill="url(#cg)"/></g>
<g stroke="#f08a8a" stroke-width="0.9"><line x1="776" y1="500" x2="776" y2="527"/><line x1="865" y1="500" x2="865" y2="527"/></g>
<g fill="#e02020"><circle cx="776" cy="499" r="1.2"/><circle cx="865" cy="499" r="1.2"/></g>
<g stroke="#2a3a6a" stroke-width="1.3"><path d="M773,506 l8,8 M781,506 l-8,8"/><path d="M860,506 l8,8 M868,506 l-8,8"/></g>
<!-- Row II left -->
<g transform="translate(453,559)"><rect width="14" height="70" fill="url(#tio)"/></g>
<g transform="translate(558,559)"><rect width="14" height="70" fill="url(#tio)"/></g>
<g stroke="#f08a8a" stroke-width="0.9"><line x1="468" y1="567" x2="468" y2="630"/><line x1="556" y1="567" x2="556" y2="630"/></g>
<g fill="#e02020"><circle cx="468" cy="566" r="1.2"/><circle cx="556" cy="566" r="1.2"/></g>
<g transform="translate(471,562)"><rect width="11" height="66" fill="url(#cb)"/></g>
<g transform="translate(482,565)"><rect width="5.5" height="60" fill="url(#cg)"/></g>
<g transform="translate(507.5,573)"><rect width="5.5" height="55" fill="url(#cg)"/></g>
<g transform="translate(527,567)"><rect width="11" height="60" fill="url(#cg)"/></g>
<g transform="translate(544,562)"><rect width="11" height="66" fill="url(#cb)"/></g>
<g transform="translate(491,558) scale(0.8)"><rect width="49.5" height="16.5" fill="url(#dia)"/></g>
<!-- Row II middle -->
<g transform="translate(606,559)"><rect width="14" height="70" fill="url(#tio)"/></g>
<g transform="translate(711,559)"><rect width="14" height="70" fill="url(#tio)"/></g>
<g transform="translate(640,557) scale(0.9)"><rect width="49.5" height="66" fill="url(#dia)"/></g>
<g transform="translate(622,560)"><rect width="11" height="66" fill="url(#cb)"/></g>
<g transform="translate(633,568)"><rect width="5.5" height="44" fill="url(#cg)"/></g>
<g transform="translate(686,566)"><rect width="5.5" height="50" fill="url(#cg)"/></g>
<g transform="translate(693,560)"><rect width="11" height="66" fill="url(#cb)"/></g>
<g transform="translate(646,617)"><rect width="5.5" height="16" fill="url(#cg)"/></g>
<g transform="translate(662,617)"><rect width="5.5" height="16" fill="url(#cg)"/></g>
<g transform="translate(677,617)"><rect width="5.5" height="16" fill="url(#cg)"/></g>
<g stroke="#f08a8a" stroke-width="0.9" fill="none"><path d="M619,568 V630"/><path d="M708,568 V630"/></g>
<!-- Row II right -->
<g transform="translate(762,559)"><rect width="14" height="70" fill="url(#tio)"/></g>
<g transform="translate(867,559)"><rect width="14" height="70" fill="url(#tio)"/></g>
<g transform="translate(778,556)"><rect width="82.5" height="82.5" fill="url(#dia)"/></g>
<g stroke="#f08a8a" stroke-width="0.9"><line x1="776" y1="585" x2="776" y2="610"/><line x1="865" y1="585" x2="865" y2="610"/></g>
<g fill="#e02020"><circle cx="776" cy="584" r="1.2"/><circle cx="865" cy="584" r="1.2"/></g>
<g stroke="#2a3a6a" stroke-width="1.3" fill="none"><path d="M773,593 l3,8 l4,-12"/><path d="M860,593 l3,8 l4,-12"/></g>
<!-- legend -->
<circle cx="527" cy="648" r="3" fill="#f3e2a0" stroke="#bf9f50" stroke-width="0.7"/>
<text class="a" x="535" y="651" font-size="7.5" fill="#333">TiO<tspan font-size="5.5" dy="1.5">2</tspan><tspan dy="-1.5">/ZrO</tspan><tspan font-size="5.5" dy="1.5">2</tspan></text>
<g transform="translate(614,642)"><rect width="5.5" height="11" fill="url(#cg)"/></g>
<text class="a" x="623" y="651" font-size="7.5" fill="#333">MAAc</text>
<g transform="translate(683,642)"><rect width="5.5" height="11" fill="url(#cb)"/></g>
<text class="a" x="692" y="651" font-size="7.5" fill="#333">MAPa</text>
<g transform="translate(764,640)"><rect width="16.5" height="16.5" fill="url(#dia)"/></g>
<text class="a" x="797" y="651" font-size="7.5" fill="#333">PVSK</text>
</svg>
</body></html>
